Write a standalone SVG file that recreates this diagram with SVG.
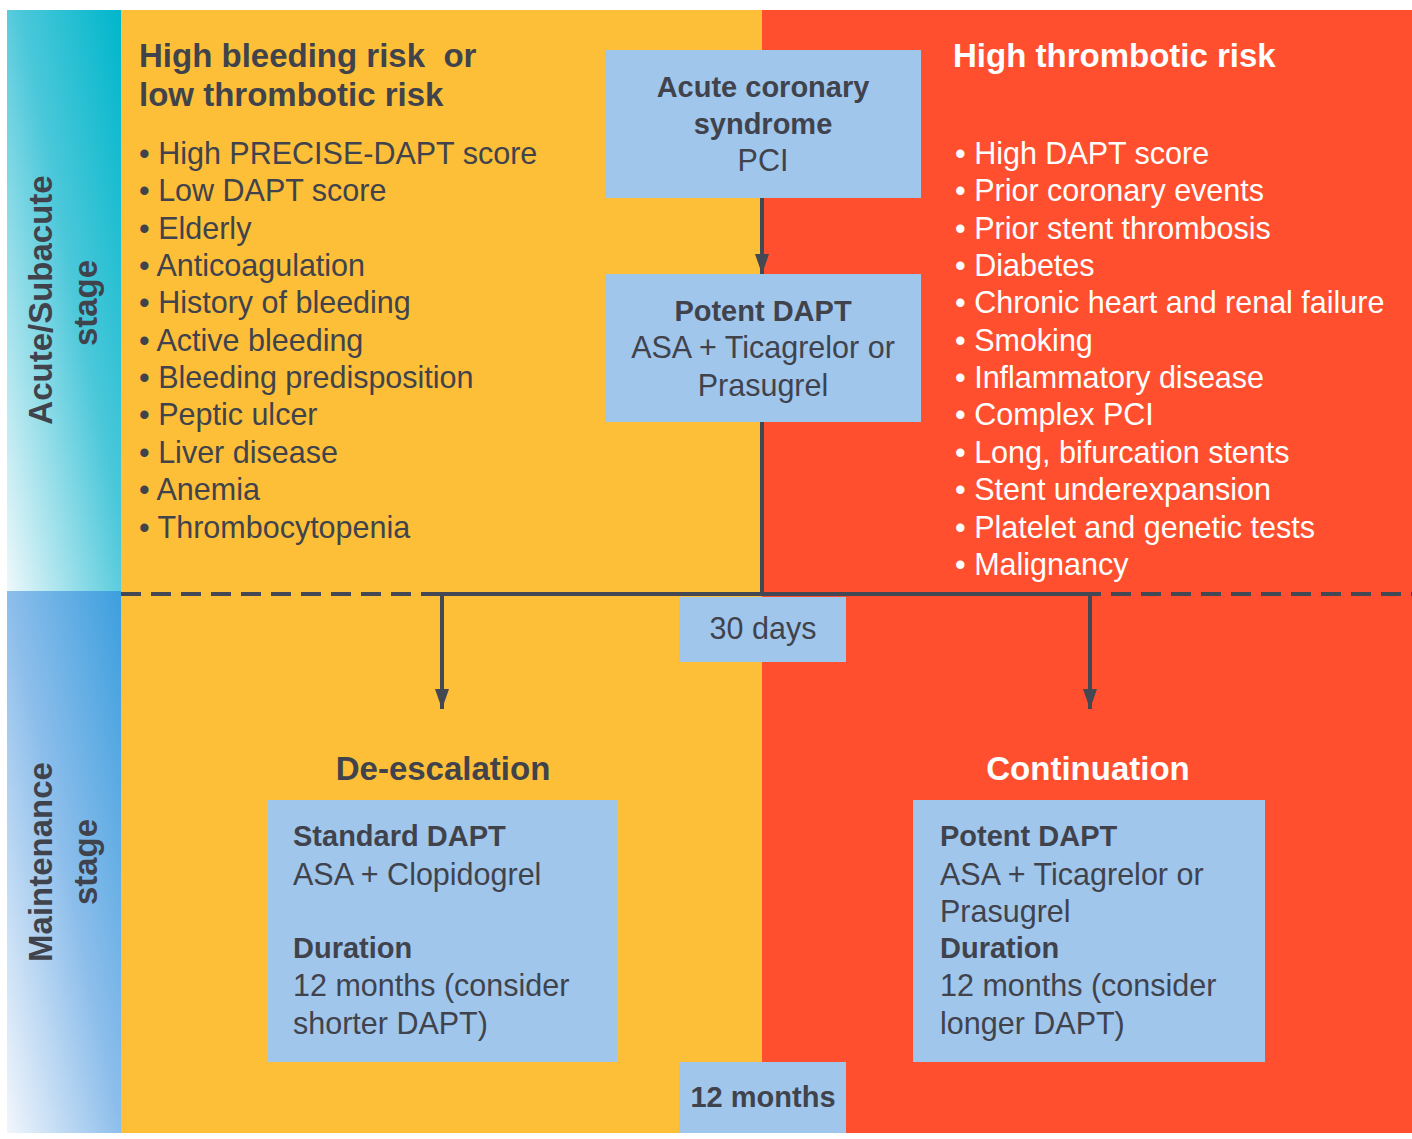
<svg xmlns="http://www.w3.org/2000/svg" width="1412" height="1139" viewBox="0 0 1412 1139">
<defs>
<linearGradient id="gTop" x1="1" y1="0" x2="0" y2="1">
<stop offset="0" stop-color="#00B6CB"/>
<stop offset="0.45" stop-color="#4CC8DA"/>
<stop offset="1" stop-color="#EEF8FB"/>
</linearGradient>
<linearGradient id="gBot" x1="1" y1="0" x2="0" y2="1">
<stop offset="0" stop-color="#3C9FDE"/>
<stop offset="0.5" stop-color="#8DBEEB"/>
<stop offset="1" stop-color="#F2F6FC"/>
</linearGradient>
<marker id="arr" viewBox="0 0 20 14" refX="20" refY="7" markerWidth="20" markerHeight="14" markerUnits="userSpaceOnUse" orient="auto">
<path d="M0,0 L20,7 L0,14 Z" fill="#434852"/>
</marker>
</defs>
<style>
text{font-family:"Liberation Sans",Arial,sans-serif;}
.t{font-size:30.5px;fill:#40434C;}
.w{font-size:30.5px;fill:#FFFFFF;}
.h{font-size:33px;font-weight:bold;fill:#40434C;white-space:pre;}
.hw{font-size:33px;font-weight:bold;fill:#FFFFFF;}
.b{font-weight:bold;font-size:29px;}
.box{fill:#A0C6EC;}
.c{text-anchor:middle;}
.side{font-size:33px;font-weight:bold;fill:#40434C;text-anchor:middle;}
.ln{stroke:#434852;stroke-width:4;fill:none;}
</style>
<rect width="1412" height="1139" fill="#FFFFFF"/>
<g id="panels">
<rect x="121" y="10" width="641" height="1123" fill="#FDBE38"/>
<rect x="762" y="10" width="650" height="1123" fill="#FF4F2F"/>
</g>
<g id="stage-acute">
<rect x="7" y="10" width="114" height="581" fill="url(#gTop)"/>
<text class="side" transform="translate(52,300) rotate(-90)">Acute/Subacute</text>
<text class="side" transform="translate(97,303) rotate(-90)">stage</text>
</g>
<g id="stage-maintenance">
<rect x="7" y="591" width="114" height="542" fill="url(#gBot)"/>
<text class="side" transform="translate(52,862) rotate(-90)">Maintenance</text>
<text class="side" transform="translate(97,862) rotate(-90)">stage</text>
</g>
<g id="connectors">
<line class="ln" x1="121" y1="594" x2="1412" y2="594" stroke-dasharray="20 10"/>
<line class="ln" x1="438" y1="594" x2="1100" y2="594"/>
<line class="ln" x1="762" y1="198" x2="762" y2="274" marker-end="url(#arr)"/>
<line class="ln" x1="762" y1="422" x2="762" y2="594"/>
<line class="ln" x1="442" y1="594" x2="442" y2="709" marker-end="url(#arr)"/>
<line class="ln" x1="1090" y1="594" x2="1090" y2="709" marker-end="url(#arr)"/>
</g>
<g id="bleeding-risk">
<text class="h" x="139" y="67" xml:space="preserve">High bleeding risk  or</text>
<text class="h" x="139" y="106">low thrombotic risk</text>
<text class="t" x="139" y="164">• High PRECISE-DAPT score</text>
<text class="t" x="139" y="201">• Low DAPT score</text>
<text class="t" x="139" y="239">• Elderly</text>
<text class="t" x="139" y="276">• Anticoagulation</text>
<text class="t" x="139" y="313">• History of bleeding</text>
<text class="t" x="139" y="351">• Active bleeding</text>
<text class="t" x="139" y="388">• Bleeding predisposition</text>
<text class="t" x="139" y="425">• Peptic ulcer</text>
<text class="t" x="139" y="463">• Liver disease</text>
<text class="t" x="139" y="500">• Anemia</text>
<text class="t" x="139" y="538">• Thrombocytopenia</text>
</g>
<g id="thrombotic-risk">
<text class="hw" x="953" y="67">High thrombotic risk</text>
<text class="w" x="955" y="164">• High DAPT score</text>
<text class="w" x="955" y="201">• Prior coronary events</text>
<text class="w" x="955" y="239">• Prior stent thrombosis</text>
<text class="w" x="955" y="276">• Diabetes</text>
<text class="w" x="955" y="313">• Chronic heart and renal failure</text>
<text class="w" x="955" y="351">• Smoking</text>
<text class="w" x="955" y="388">• Inflammatory disease</text>
<text class="w" x="955" y="425">• Complex PCI</text>
<text class="w" x="955" y="463">• Long, bifurcation stents</text>
<text class="w" x="955" y="500">• Stent underexpansion</text>
<text class="w" x="955" y="538">• Platelet and genetic tests</text>
<text class="w" x="955" y="575">• Malignancy</text>
</g>
<g id="acs">
<rect class="box" x="605" y="50" width="316" height="148"/>
<text class="t b c" x="763" y="97">Acute coronary</text>
<text class="t b c" x="763" y="134">syndrome</text>
<text class="t c" x="763" y="171">PCI</text>
</g>
<g id="potent-dapt">
<rect class="box" x="605" y="274" width="316" height="148"/>
<text class="t b c" x="763" y="321">Potent DAPT</text>
<text class="t c" x="763" y="358">ASA + Ticagrelor or</text>
<text class="t c" x="763" y="396">Prasugrel</text>
</g>
<g id="days30">
<rect class="box" x="679" y="597" width="167" height="65"/>
<text class="t c" x="763" y="639">30 days</text>
</g>
<g id="deescalation">
<text class="h c" x="443" y="780">De-escalation</text>
<rect class="box" x="268" y="800" width="349" height="262"/>
<text class="t b" x="293" y="846">Standard DAPT</text>
<text class="t" x="293" y="885">ASA + Clopidogrel</text>
<text class="t b" x="293" y="958">Duration</text>
<text class="t" x="293" y="996">12 months (consider</text>
<text class="t" x="293" y="1034">shorter DAPT)</text>
</g>
<g id="continuation">
<text class="hw c" x="1088" y="780">Continuation</text>
<rect class="box" x="913" y="800" width="352" height="262"/>
<text class="t b" x="940" y="846">Potent DAPT</text>
<text class="t" x="940" y="885">ASA + Ticagrelor or</text>
<text class="t" x="940" y="922">Prasugrel</text>
<text class="t b" x="940" y="958">Duration</text>
<text class="t" x="940" y="996">12 months (consider</text>
<text class="t" x="940" y="1034">longer DAPT)</text>
</g>
<g id="months12">
<rect class="box" x="679" y="1062" width="167" height="71"/>
<text class="t b c" x="763" y="1107">12 months</text>
</g>
</svg>
